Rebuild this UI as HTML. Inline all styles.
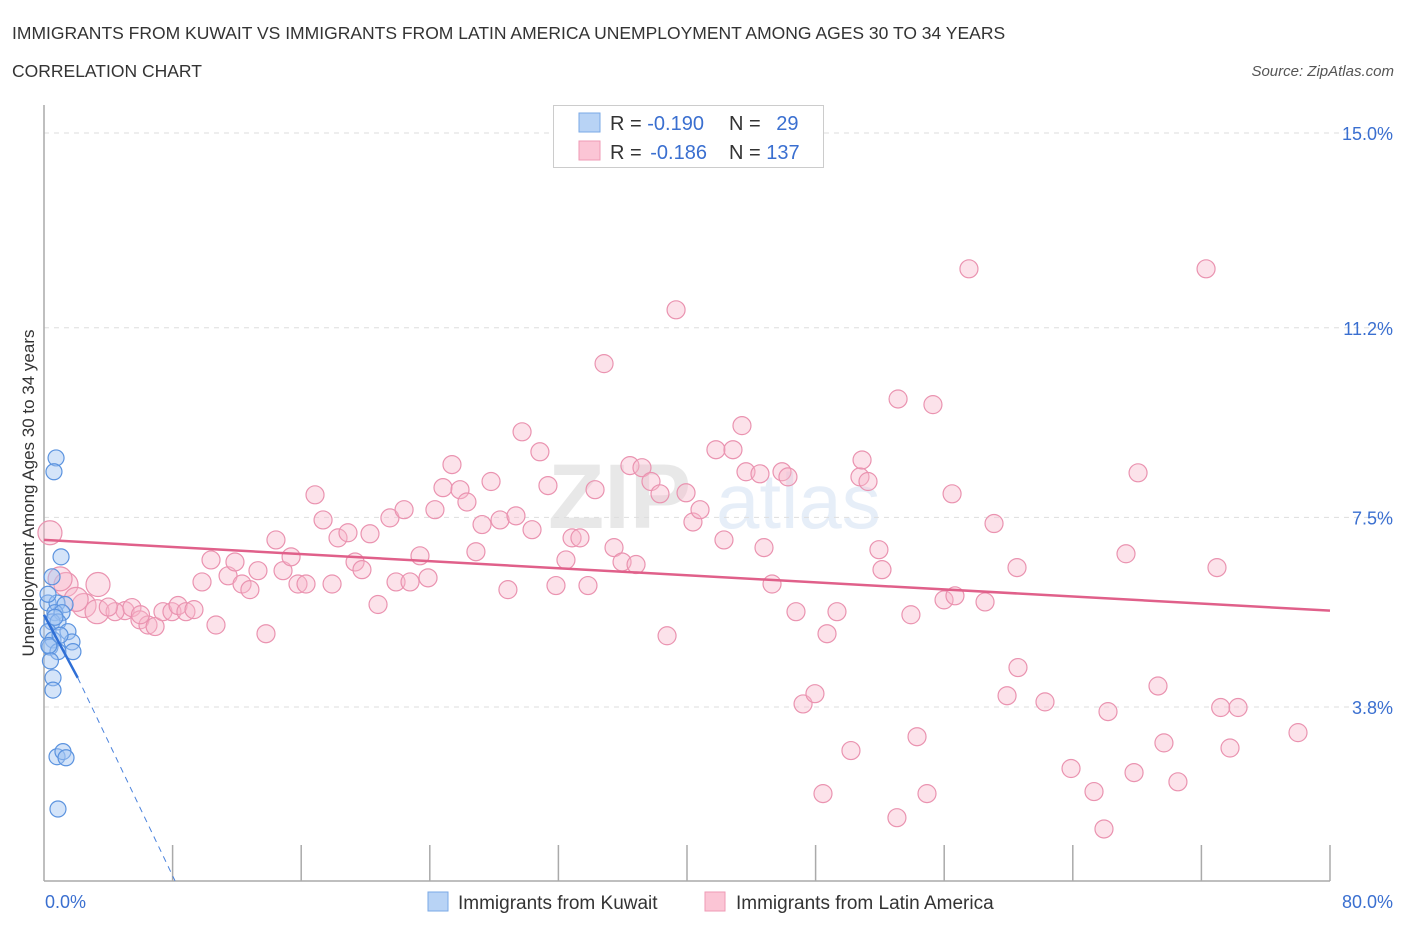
<!DOCTYPE html>
<html><head><meta charset="utf-8"><style>
body{margin:0;background:#fff;font-family:"Liberation Sans",sans-serif;}
svg text{font-family:"Liberation Sans",sans-serif;}
</style></head><body>
<svg id="chart" width="1406" height="930" viewBox="0 0 1406 930">
<text x="12" y="39" font-size="17.5" fill="#333">IMMIGRANTS FROM KUWAIT VS IMMIGRANTS FROM LATIN AMERICA UNEMPLOYMENT AMONG AGES 30 TO 34 YEARS</text>
<text x="12" y="77" font-size="17.5" fill="#333">CORRELATION CHART</text>
<text x="1394" y="76" font-size="15" fill="#555" text-anchor="end" font-style="italic">Source: ZipAtlas.com</text>
<g opacity="0.13">
<text x="548" y="528" font-size="92" font-family="Liberation Serif" fill="#555" font-weight="bold">ZIP</text>
<text x="716" y="528" font-size="78" fill="#4a7fd0">atlas</text>
</g>
<g id="grid"></g>
<g id="axes"></g>
<g id="trends"></g>
<g id="points"></g>
<text transform="translate(34,493) rotate(-90)" font-size="17" fill="#333" text-anchor="middle">Unemployment Among Ages 30 to 34 years</text>
<g>
<rect x="553.5" y="105.5" width="270" height="62" fill="#fff" stroke="#ccc"/>
<rect x="579" y="113" width="21" height="19" fill="#b8d3f5" stroke="#7aa8e6"/>
<rect x="579" y="141" width="21" height="19" fill="#fbc5d5" stroke="#ef9ab5"/>
<text x="610" y="130" font-size="20" fill="#333">R = <tspan fill="#3a6fd0">-0.190</tspan></text>
<text x="729" y="130" font-size="20" fill="#333">N = <tspan fill="#3a6fd0" dx="10">29</tspan></text>
<text x="610" y="159" font-size="20" fill="#333">R = <tspan fill="#3a6fd0" dx="3">-0.186</tspan></text>
<text x="729" y="159" font-size="20" fill="#333">N = <tspan fill="#3a6fd0">137</tspan></text>
</g>
<g>
<g><rect x="428" y="892" width="20" height="19" fill="#b8d3f5" stroke="#7aa8e6"/><text x="458" y="909" font-size="19" fill="#333">Immigrants from Kuwait</text></g>
<g><rect x="705" y="892" width="20" height="19" fill="#fbc5d5" stroke="#ef9ab5"/><text x="736" y="909" font-size="19" fill="#333">Immigrants from Latin America</text></g>
</g>
</svg>
<script>
const yTicks=[15.0,11.2,7.5,3.8];
const yTickLabels=["15.0%","11.2%","7.5%","3.8%"];
const xTicks=[0,8,16,24,32,40,48,56,64,72,80];
const xEndLabels=["0.0%","80.0%"];
const kuwaitX=[0.75,0.62,1.06,0.5,0.25,0.81,1.31,0.68,1.12,0.5,0.87,1.49,0.25,0.56,1.74,0.37,0.87,1.8,0.56,0.56,0.81,1.18,1.37,0.87,0.25,0.68,0.3,1.0,0.4];
const kuwaitY=[8.66,8.39,6.73,6.34,5.83,5.83,5.8,5.64,5.64,5.46,5.46,5.27,5.27,5.11,5.07,4.97,4.88,4.88,4.37,4.13,2.83,2.93,2.81,1.81,6.0,5.55,5.0,5.2,4.7];
const latamX=[0.37,1.37,3.36,2.49,3.3,5.04,4.42,5.47,5.97,6.47,6.91,7.4,7.96,8.34,8.83,9.33,10.7,9.83,10.39,11.45,11.88,12.32,12.81,13.31,13.81,14.43,14.87,15.37,15.8,16.3,16.86,17.36,17.92,18.29,18.91,19.35,19.78,20.28,20.78,21.52,21.9,22.4,22.77,23.39,23.89,24.32,24.82,25.38,25.88,26.31,26.87,27.25,27.81,28.37,28.86,29.36,29.74,30.36,30.85,31.35,31.85,32.47,32.85,33.34,33.84,34.28,34.84,35.46,35.96,36.45,36.83,37.2,37.76,38.32,38.76,39.32,39.94,40.37,40.81,41.8,42.3,42.86,43.42,43.67,44.54,44.79,45.29,45.91,46.28,46.78,47.22,47.96,48.46,48.71,49.33,50.2,50.76,50.89,51.26,51.94,52.13,53.06,53.13,53.93,54.31,54.93,55.3,55.99,56.49,56.67,57.54,58.54,59.1,59.91,60.53,60.59,62.27,63.89,65.32,65.94,66.19,67.31,67.81,68.06,69.3,69.67,70.54,72.29,72.97,73.2,73.78,74.28,78.01,1.0,2.0,4.0,6.0];
const latamY=[7.2,6.19,6.19,5.78,5.66,5.68,5.66,5.74,5.5,5.4,5.37,5.66,5.66,5.78,5.66,5.7,5.4,6.24,6.67,6.36,6.63,6.2,6.09,6.46,5.23,7.06,6.46,6.73,6.2,6.2,7.94,7.45,6.2,7.1,7.2,6.63,6.48,7.18,5.8,7.49,6.24,7.65,6.24,6.75,6.32,7.65,8.08,8.53,8.04,7.8,6.83,7.36,8.2,7.45,6.09,7.53,9.17,7.26,8.78,8.12,6.17,6.67,7.1,7.1,6.17,8.04,10.5,6.91,6.63,8.51,6.58,8.47,8.2,7.96,5.19,11.55,7.98,7.41,7.65,8.82,7.06,8.82,9.29,8.39,8.35,6.91,6.2,8.39,8.29,5.66,3.86,4.06,2.11,5.23,5.66,2.95,8.29,8.62,8.2,6.87,6.48,1.64,9.81,5.6,3.22,2.11,9.7,5.89,7.96,5.97,12.35,5.85,7.38,4.02,6.52,4.57,3.9,2.6,2.15,1.42,3.71,6.79,2.52,8.37,4.21,3.1,2.34,12.35,6.52,3.79,3.0,3.79,3.3,6.3,5.9,5.75,5.6];
const latamTrendX=[0,80];
const latamTrendY=[7.06,5.68];
const kuwaitTrendX=[0,2.1,8.15];
const kuwaitTrendY=[5.6,4.37,0.41];
const NS="http://www.w3.org/2000/svg";
const X0=44,X1=1330,XMAX=80,YTOP=133,YBOT=881;
function sx(v){return X0+(X1-X0)*v/XMAX;}
function sy(v){return 901.75-51.25*v;}
function mk(tag,attrs,parent){const e=document.createElementNS(NS,tag);for(const k in attrs)e.setAttribute(k,attrs[k]);parent.appendChild(e);return e;}
const grid=document.getElementById('grid'),axes=document.getElementById('axes'),trends=document.getElementById('trends'),pts=document.getElementById('points');
yTicks.forEach((t,i)=>{
 const l=mk('line',{x1:X0,x2:1392,y1:sy(t),y2:sy(t),stroke:'#ddd','stroke-dasharray':'5,5'},grid);
 
 
 const tx=mk('text',{x:1393,y:sy(t)+7,'font-size':18,fill:'#3a6fd0','text-anchor':'end'},grid);
 tx.textContent=yTickLabels[i];
 
 
});
mk('line',{x1:X0,x2:X0,y1:105,y2:YBOT,stroke:'#aaa','stroke-width':1.5},axes);
mk('line',{x1:X0,x2:X1,y1:YBOT,y2:YBOT,stroke:'#aaa','stroke-width':1.5},axes);
xTicks.forEach(t=>{
 const l=mk('line',{x1:sx(t),x2:sx(t),y1:t===0?YBOT:845,y2:YBOT,stroke:'#aaa','stroke-width':1.5},axes);
 
 
});
[[0,'start',45],[1,'end',1393]].forEach(([i,a,x])=>{
 const tx=mk('text',{x:x,y:908,'font-size':18,fill:'#3a6fd0','text-anchor':a},axes);
 tx.textContent=xEndLabels[i];
 
 
});
latamX.forEach((x,i)=>{
 const big=x<4;
 const c=mk('circle',{cx:sx(x),cy:sy(latamY[i]),r:big?12:9,fill:'rgba(248,182,203,0.4)',stroke:'#ea93b0','stroke-width':1.2},pts);
 
 
});
kuwaitX.forEach((x,i)=>{
 const c=mk('circle',{cx:sx(x),cy:sy(kuwaitY[i]),r:8,fill:'rgba(160,196,242,0.45)',stroke:'#5b93df','stroke-width':1.2},pts);
 
 
});
const lt=mk('line',{x1:sx(latamTrendX[0]),y1:sy(latamTrendY[0]),x2:sx(latamTrendX[1]),y2:sy(latamTrendY[1]),stroke:'#e0608a','stroke-width':2.5},trends);


const kt=mk('line',{x1:sx(kuwaitTrendX[0]),y1:sy(kuwaitTrendY[0]),x2:sx(kuwaitTrendX[1]),y2:sy(kuwaitTrendY[1]),stroke:'#2f6fd6','stroke-width':2.5},trends);


const kd=mk('line',{x1:sx(kuwaitTrendX[1]),y1:sy(kuwaitTrendY[1]),x2:sx(kuwaitTrendX[2]),y2:sy(kuwaitTrendY[2]),stroke:'#4a82dc','stroke-width':1,'stroke-dasharray':'6,5'},trends);


document.getElementById('chart').appendChild(trends);
</script>
</body></html>
